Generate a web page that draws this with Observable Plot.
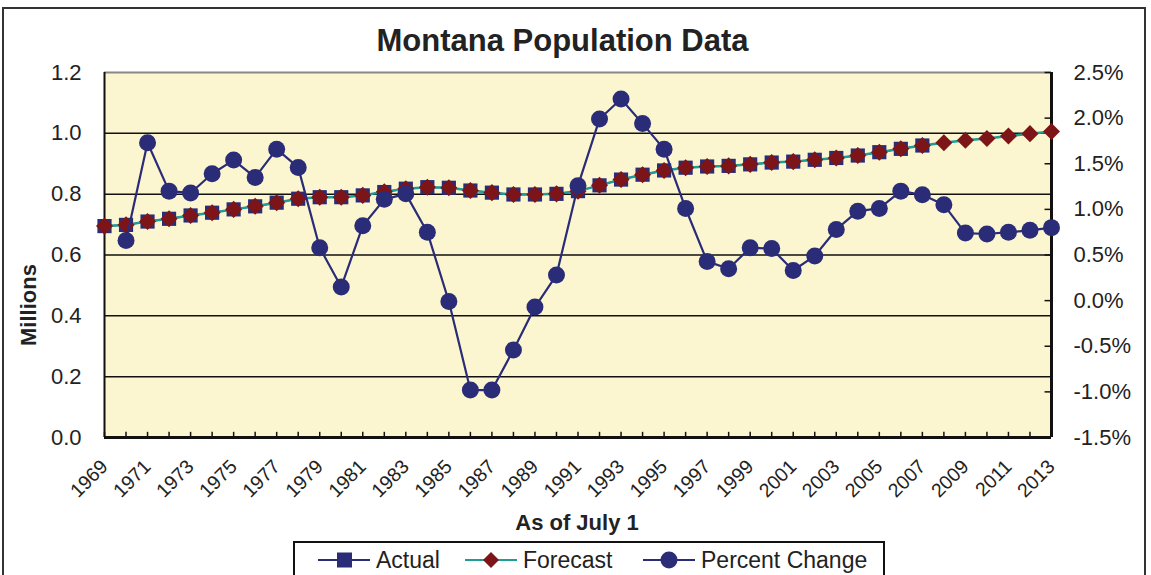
<!DOCTYPE html>
<html>
<head>
<meta charset="utf-8">
<script src="https://cdn.jsdelivr.net/npm/d3@7"></script>
<script src="https://cdn.jsdelivr.net/npm/@observablehq/plot@0.6"></script>
<style>
  html, body { margin: 0; padding: 0; background: #fff; }
  #wrap { position: relative; width: 1151px; height: 575px; overflow: hidden; background: #fff;
          font-family: "Liberation Sans", Arial, sans-serif; color: #222; }
  #border { position: absolute; left: 2px; top: 7px; width: 1144px; height: 600px; border: 2px solid #333; box-sizing: border-box; }
  #chart { position: absolute; left: 0; top: 0; }
  .title { position: absolute; left: 0; top: 25px; width: 1125px; text-align: center; font-weight: bold; font-size: 31px; line-height: 31px; }
  .xlabel { position: absolute; left: 477px; width: 200px; top: 512px; text-align: center; font-weight: bold; font-size: 22px; line-height: 22px; }
  .ylabel { position: absolute; left: -71px; width: 200px; top: 294px; text-align: center; font-weight: bold; font-size: 22px; line-height: 22px; transform: rotate(-90deg); }
  #legend { position: absolute; left: 293px; top: 541px; width: 592px; height: 50px; border: 2px solid #111; box-sizing: border-box; background: #fff; }
  .li { position: absolute; top: 4px; height: 26px; display: flex; align-items: center; font-size: 23px; }
  .li svg { display: block; }
  .li span { margin-left: 6px; line-height: 26px; }
</style>
</head>
<body>
<div id="wrap">
  <div id="border"></div>
  <div id="chart"></div>
  <div class="title">Montana Population Data</div>
  <div class="xlabel">As of July 1</div>
  <div class="ylabel">Millions</div>
  <div id="legend"></div>
</div>
<script>
// ---- Data ----
const actualYears = [1969,1970,1971,1972,1973,1974,1975,1976,1977,1978,1979,1980,1981,1982,1983,1984,1985,1986,1987,1988,1989,1990,1991,1992,1993,1994,1995,1996,1997,1998,1999,2000,2001,2002,2003,2004,2005,2006,2007];
const actualValues = [0.695,0.699,0.710,0.719,0.730,0.739,0.750,0.760,0.772,0.785,0.790,0.790,0.796,0.807,0.818,0.823,0.821,0.812,0.805,0.799,0.799,0.801,0.810,0.829,0.848,0.864,0.878,0.887,0.891,0.893,0.898,0.904,0.907,0.913,0.919,0.927,0.938,0.949,0.960];

const forecastYears = [1969,1970,1971,1972,1973,1974,1975,1976,1977,1978,1979,1980,1981,1982,1983,1984,1985,1986,1987,1988,1989,1990,1991,1992,1993,1994,1995,1996,1997,1998,1999,2000,2001,2002,2003,2004,2005,2006,2007,2008,2009,2010,2011,2012,2013];
const forecastValues = [0.695,0.699,0.710,0.719,0.730,0.739,0.750,0.760,0.772,0.785,0.790,0.790,0.796,0.808,0.818,0.823,0.821,0.812,0.805,0.799,0.799,0.801,0.810,0.829,0.848,0.864,0.878,0.887,0.891,0.893,0.898,0.904,0.907,0.913,0.919,0.927,0.938,0.949,0.960,0.969,0.977,0.983,0.991,0.999,1.006];

const pctYears = [1970,1971,1972,1973,1974,1975,1976,1977,1978,1979,1980,1981,1982,1983,1984,1985,1986,1987,1988,1989,1990,1991,1992,1993,1994,1995,1996,1997,1998,1999,2000,2001,2002,2003,2004,2005,2006,2007,2008,2009,2010,2011,2012,2013];
const pctValues = [0.66,1.73,1.20,1.18,1.39,1.54,1.35,1.66,1.46,0.58,0.15,0.82,1.11,1.17,0.75,-0.01,-0.98,-0.98,-0.54,-0.07,0.28,1.26,1.99,2.21,1.94,1.66,1.01,0.43,0.35,0.58,0.57,0.33,0.49,0.78,0.98,1.01,1.20,1.16,1.05,0.74,0.73,0.75,0.77,0.80];

const leftTicks = [0, 0.2, 0.4, 0.6, 0.8, 1.0, 1.2];
const rightTicks = [-1.5, -1.0, -0.5, 0.0, 0.5, 1.0, 1.5, 2.0, 2.5];
const xTickLabels = [1969,1971,1973,1975,1977,1979,1981,1983,1985,1987,1989,1991,1993,1995,1997,1999,2001,2003,2005,2007,2009,2011,2013];

// ---- Styles ----
const navy = "#2B2C78";
const darkRed = "#7D1518";
const teal = "#1E9C98";
const bg = "#FBF6CF";

// ---- Build tables ----
const actual = actualYears.map((year, i) => ({year, value: actualValues[i]}));
const forecast = forecastYears.map((year, i) => ({year, value: forecastValues[i]}));
const pct = pctYears.map((year, i) => ({year, value: pctValues[i]}));

// secondary axis mapping onto the primary y domain
const yMin = leftTicks[0], yMax = leftTicks[leftTicks.length - 1];
const pMin = rightTicks[0], pMax = rightTicks[rightTicks.length - 1];
const pToY = p => yMin + (p - pMin) * (yMax - yMin) / (pMax - pMin);
const yToP = y => pMin + (y - yMin) * (pMax - pMin) / (yMax - yMin);

const xMin = forecastYears[0], xMax = forecastYears[forecastYears.length - 1];
const gridTicks = leftTicks.slice(1, -1);

const chart = Plot.plot({
  width: 1151,
  height: 540,
  marginLeft: 104,
  marginRight: 100,
  marginTop: 72,
  marginBottom: 103,
  style: {fontFamily: "'Liberation Sans', Arial, sans-serif", color: "#222", background: "transparent", overflow: "visible"},
  x: {domain: [xMin, xMax]},
  y: {domain: [yMin, yMax]},
  marks: [
    Plot.frame({fill: bg, stroke: null}),
    Plot.ruleY(gridTicks, {stroke: "#111", strokeWidth: 1.5}),
    Plot.ruleY([yMax], {stroke: "#888", strokeWidth: 2}),
    Plot.ruleX(forecastYears, {y1: yMin, y2: yMin + 0.017, stroke: "#111", strokeWidth: 1.5}),
    Plot.ruleY(rightTicks.map(pToY), {x1: xMax - 0.3, x2: xMax, stroke: "#111", strokeWidth: 1.5}),
    Plot.ruleX([xMin], {stroke: "#111", strokeWidth: 2}),
    Plot.ruleX([xMax], {stroke: "#111", strokeWidth: 3}),
    Plot.ruleY([yMin], {stroke: "#111", strokeWidth: 3}),
    Plot.axisY({anchor: "left", ticks: leftTicks, tickFormat: d3.format(".1f"), tickSize: 0, tickPadding: 23, fontSize: 22, label: null}),
    Plot.axisY({anchor: "right", ticks: rightTicks.map(pToY), tickFormat: v => yToP(v).toFixed(1) + "%", tickSize: 0, tickPadding: 22, fontSize: 22, label: null}),
    Plot.axisX({ticks: xTickLabels, tickFormat: d => String(d), tickRotate: -45, tickSize: 0, tickPadding: 26, fontSize: 19.5, label: null}),
    Plot.line(actual, {x: "year", y: "value", stroke: navy, strokeWidth: 1.5}),
    Plot.line(forecast, {x: "year", y: "value", stroke: teal, strokeWidth: 2.5}),
    Plot.dot(actual, {x: "year", y: "value", symbol: "square", r: 8, fill: navy, stroke: null}),
    Plot.dot(forecast, {x: "year", y: "value", symbol: "square", r: 6.8, rotate: 45, fill: darkRed, stroke: null}),
    Plot.line(pct, {x: "year", y: d => pToY(d.value), stroke: navy, strokeWidth: 2.2}),
    Plot.dot(pct, {x: "year", y: d => pToY(d.value), r: 8.5, fill: navy, stroke: null})
  ]
});
document.getElementById("chart").appendChild(chart);

// ---- Legend ----
const legendItems = [
  {name: "Actual", line: navy, marker: "square", fill: navy, left: 23},
  {name: "Forecast", line: teal, marker: "diamond", fill: darkRed, left: 170},
  {name: "Percent Change", line: navy, marker: "circle", fill: navy, left: 348}
];
const legend = d3.select("#legend");
for (const it of legendItems) {
  const div = legend.append("div").attr("class", "li").style("left", it.left + "px");
  const svg = div.append("svg").attr("width", 52).attr("height", 26);
  svg.append("line").attr("x1", 0).attr("x2", 52).attr("y1", 13).attr("y2", 13).attr("stroke", it.line).attr("stroke-width", 2);
  if (it.marker === "square") svg.append("rect").attr("x", 19).attr("y", 5.5).attr("width", 15).attr("height", 15).attr("fill", it.fill);
  else if (it.marker === "diamond") svg.append("path").attr("d", "M26,5L34,13L26,21L18,13Z").attr("fill", it.fill);
  else svg.append("circle").attr("cx", 26).attr("cy", 13).attr("r", 8.5).attr("fill", it.fill);
  div.append("span").text(it.name);
}
</script>
</body>
</html>
